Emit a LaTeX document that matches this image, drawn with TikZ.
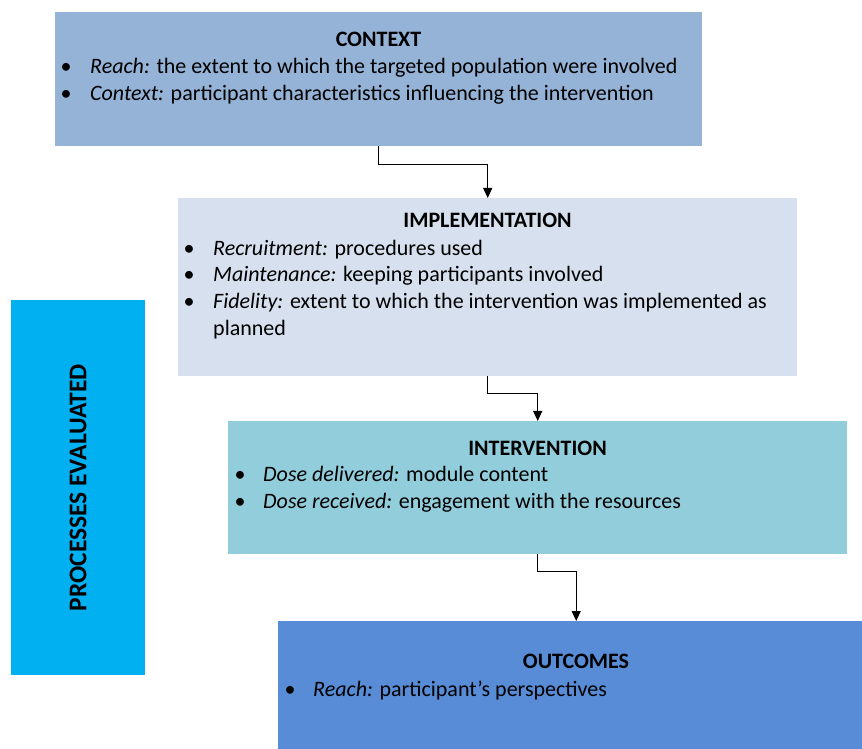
\documentclass[tikz,border=0pt]{standalone}
\usepackage{fontspec}
\setmainfont{Carlito}
\usetikzlibrary{arrows.meta}
\definecolor{cctx}{HTML}{95B3D7}
\definecolor{cimpl}{HTML}{D6E0EE}
\definecolor{cintv}{HTML}{92CDDC}
\definecolor{coutc}{HTML}{588CD6}
\definecolor{cproc}{HTML}{00B0F0}
\newcommand\fs{\fontsize{22}{26}\selectfont}
\tikzset{
  box/.style={draw=none, inner sep=0pt, anchor=north west},
  txt/.style={anchor=base west, inner sep=0pt, font=\fs},
  ttl/.style={anchor=base, inner sep=0pt, font=\fs\bfseries},
  bul/.style={anchor=base, inner sep=0pt, font=\fs},
  conn/.style={draw=black, line width=1.1pt, -{Triangle[length=10pt,width=9pt]}}
}
\begin{document}
\begin{tikzpicture}[x=1pt,y=1pt]
\useasboundingbox (0,0) rectangle (862,748);
% boxes (y = 748 - pixel y)
\node[box, fill=cctx, minimum width=647pt, minimum height=134pt] (ctx) at (55,736) {};
\node[box, fill=cimpl, minimum width=619pt, minimum height=178pt] (impl) at (178,550) {};
\node[box, fill=cintv, minimum width=619pt, minimum height=133pt] (intv) at (228,327) {};
\node[box, fill=coutc, minimum width=596pt, minimum height=140pt] (outc) at (278,127) {};
\node[box, fill=cproc, minimum width=134pt, minimum height=375pt] (proc) at (11,448) {};
\node[rotate=90, inner sep=0pt, font=\fontsize{25.5}{28}\selectfont\bfseries] (proclbl) at (proc.center) {PROCESSES EVALUATED};
% CONTEXT
\node[ttl] (t1) at (378.5,701) {CONTEXT};
\node[bul] (b11) at (66,674) {•};
\node[txt] (l11) at (90,674) {{\itshape Reach:} the extent to which the targeted population were involved};
\node[bul] (b12) at (66,647.5) {•};
\node[txt] (l12) at (90,647.5) {{\itshape Context:} participant characteristics influencing the intervention};
% IMPLEMENTATION
\node[ttl] (t2) at (487.5,520) {IMPLEMENTATION};
\node[bul] (b21) at (189,492) {•};
\node[txt] (l21) at (213,492) {{\itshape Recruitment:} procedures used};
\node[bul] (b22) at (189,466) {•};
\node[txt] (l22) at (213,466) {{\itshape Maintenance:} keeping participants involved};
\node[bul] (b23) at (189,439) {•};
\node[txt] (l23) at (213,439) {{\itshape Fidelity:} extent to which the intervention was implemented as};
\node[txt] (l24) at (213,412.5) {planned};
% INTERVENTION
\node[ttl] (t3) at (537.5,293) {INTERVENTION};
\node[bul] (b31) at (240,266.5) {•};
\node[txt] (l31) at (263,266.5) {{\itshape Dose delivered:} module content};
\node[bul] (b32) at (240,240) {•};
\node[txt] (l32) at (263,240) {{\itshape Dose received:} engagement with the resources};
% OUTCOMES
\node[ttl] (t4) at (576,80) {OUTCOMES};
\node[bul] (b41) at (290,52) {•};
\node[txt] (l41) at (313,52) {{\itshape Reach:} participant’s perspectives};
% connectors
\draw[conn] (ctx.south) -- ++(0,-18) -| (impl.north);
\draw[conn] (impl.south) -- ++(0,-17) -| (intv.north);
\draw[conn] (intv.south) -- ++(0,-17) -| (outc.north);
\end{tikzpicture}
\end{document}
